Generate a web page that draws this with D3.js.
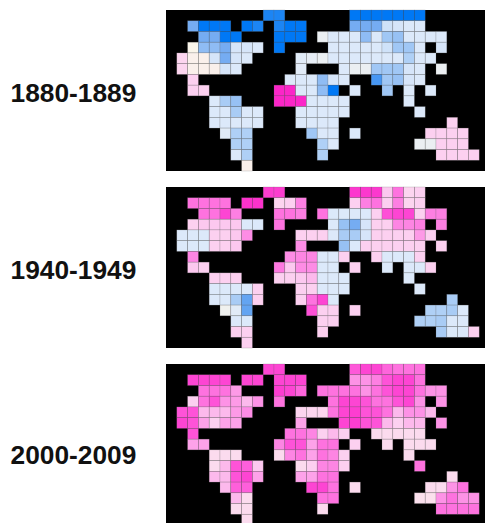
<!DOCTYPE html>
<html lang="en">
<head>
    <meta charset="UTF-8">
    <title>Decadal temperature maps</title>
    <script src="https://d3js.org/d3.v7.min.js"></script>
    <style>
        html, body { margin: 0; padding: 0; background: #fff; }
        svg { display: block; }
        text { font-family: "Liberation Sans", Arial, sans-serif; font-weight: bold; font-size: 26.3px; fill: #111; }
    </style>
</head>
<body>
<svg id="chart" width="485" height="523"></svg>
<script>
    const _ = null;

    const decades = ["1880-1889", "1940-1949", "2000-2009"];

    // temperature anomaly per grid cell, one row per latitude band
    const cells1880 = [
        [_,_,_,_,_,_,_,_,_,-3.5,-3.5,_,_,_,_,_,_,-4,-4,-4,-4,-4,-4,-4,_,_,_,_,_,_],
        [_,_,-2,-4,-4,-4,_,-4,-3.5,_,-3.5,-4,-4,_,_,_,_,-2,-2,-2,-.8,-.7,-.6,-.6,_,_,_,_,_,_],
        [_,_,_,-2,-2,-4,-4,_,_,_,-4,-4,-4,_,-.3,-.6,-.6,-.6,-1.7,-.6,-1.5,-1.6,-.6,-.6,-.6,-.6,_,_,_,_],
        [_,_,0,-1.7,-1.7,-2,-.7,-.7,-.6,_,-4,_,_,_,_,-.6,-.6,-.6,-.6,-.6,-.8,-1.5,-1.5,-.6,_,-.7,_,_,_,_],
        [_,.6,.1,.1,-.7,-2,-.7,-.6,_,_,_,_,-.5,-.4,-.3,-.6,-.6,-.6,-.6,-.6,-.6,-.6,-1.3,-.6,-.6,_,_,_,_,_],
        [_,.6,.1,.1,.1,-.7,-.6,_,_,_,_,_,-.5,_,_,_,-.6,-.3,-.3,-1.5,-1.5,-1.5,-.7,-.6,_,-.3,_,_,_,_],
        [_,_,.7,_,_,_,_,_,_,_,_,-.6,-.6,-.6,-1.7,-.7,-.6,_,_,-2.8,-1.5,-1.6,-.7,-.6,_,_,_,_,_,_],
        [_,_,.7,.7,_,_,_,_,_,_,4,4,-.6,-.6,-1.7,-4,_,-.6,_,_,-1.5,_,-.6,_,-.6,_,_,_,_,_],
        [_,_,_,_,-.6,-1.4,-1.6,_,_,_,4,4,4,-.6,-.6,-.6,-.6,_,_,_,_,_,-.6,_,_,_,_,_,_,_],
        [_,_,_,_,-.6,-.6,-1.4,-.6,-.6,_,_,_,-.6,-.6,-.6,-.6,-.6,_,_,_,_,_,_,-.6,_,_,_,_,_,_],
        [_,_,_,_,-.6,-.6,-.6,-.6,-.6,_,_,_,-.6,-.6,-.6,-.6,_,_,_,_,_,_,_,_,_,_,.7,_,_,_],
        [_,_,_,_,_,-.5,-1.3,-1.3,_,_,_,_,_,-1.5,-.6,-.6,_,-.6,_,_,_,_,_,_,.7,.7,.7,.7,_,_],
        [_,_,_,_,_,_,-1.3,-1.3,_,_,_,_,_,_,-1.3,-.6,_,_,_,_,_,_,_,-.3,-.3,.7,.7,.7,_,_],
        [_,_,_,_,_,_,-.6,-1.3,_,_,_,_,_,_,-1.3,_,_,_,_,_,_,_,_,_,_,.7,.7,.7,.7,_],
        [_,_,_,_,_,_,_,.1,_,_,_,_,_,_,_,_,_,_,_,_,_,_,_,_,_,_,_,_,_,_]
    ];
    const cells1940 = [
        [_,_,_,_,_,_,_,_,_,3.3,3.3,_,_,_,_,_,_,3.4,3.4,3.4,.8,2,.6,.7,_,_,_,_,_,_],
        [_,_,2,2,2,2,_,3.6,3.6,_,.6,.7,1.8,_,_,_,_,.7,1.8,2,.7,1.8,.6,.7,_,_,_,_,_,_],
        [_,_,_,2,2,3,1.8,_,_,_,2,2,1.8,_,2,-.6,-.6,-.6,-.6,.7,2.6,3,3,.7,1.8,1.8,_,_,_,_],
        [_,_,.7,.8,.8,.8,.8,-.6,-.6,_,2,_,_,_,_,-.6,-1.6,-2,-.7,.7,.7,1.7,1.7,1.8,_,1.8,_,_,_,_],
        [_,-.6,-.6,-.6,.7,.7,.8,1.6,_,_,_,_,.7,.7,.7,-.6,-1.4,-1.4,-.7,.7,.7,.7,.7,1.4,.7,_,_,_,_,_],
        [_,-.6,-.6,-.6,.7,.7,.8,_,_,_,_,_,1.6,_,_,_,-1.6,-.6,.7,.7,.7,.7,.7,.7,_,.7,_,_,_,_],
        [_,_,1.7,_,_,_,_,_,_,_,_,1.6,1.7,1.7,-.6,-.6,.7,_,_,.7,-.6,-.6,-.6,.7,_,_,_,_,_,_],
        [_,_,.8,.7,_,_,_,_,_,_,1.9,.8,1.6,1.6,-.6,-.6,_,.7,_,_,-.6,_,-.6,-.6,.7,_,_,_,_,_],
        [_,_,_,_,.7,.7,.7,_,_,_,.7,.7,.8,1,-.6,-.6,-.6,_,_,_,_,_,-.6,_,_,_,_,_,_,_],
        [_,_,_,_,-.6,-.6,-.6,-.6,.7,_,_,_,.7,.7,-.6,-.6,-.6,_,_,_,_,_,_,-.6,_,_,_,_,_,_],
        [_,_,_,_,-.6,-.6,-1.4,-2.3,.7,_,_,_,.7,2,3,-.6,_,_,_,_,_,_,_,_,_,_,-1.4,_,_,_],
        [_,_,_,_,_,-.2,-.5,-2.3,_,_,_,_,_,2.6,.7,.7,_,.7,_,_,_,_,_,_,-1.3,-1.3,-1.4,-.6,_,_],
        [_,_,_,_,_,_,-.6,-.6,_,_,_,_,_,_,.7,.7,_,_,_,_,_,_,_,-1.3,-1.3,-1.4,-.6,-.6,_,_],
        [_,_,_,_,_,_,.7,.7,_,_,_,_,_,_,.7,_,_,_,_,_,_,_,_,_,_,-1.4,-.6,-.6,.7,_],
        [_,_,_,_,_,_,_,.7,_,_,_,_,_,_,_,_,_,_,_,_,_,_,_,_,_,_,_,_,_,_]
    ];
    const cells2000 = [
        [_,_,_,_,_,_,_,_,_,3,3,_,_,_,_,_,_,2.4,3,3,2.2,2,2,2,_,_,_,_,_,_],
        [_,_,3,3,3,3,_,3,3,_,3,3,3,_,_,_,_,1.5,1.5,1.8,2.5,3,3,2,_,_,_,_,_,_],
        [_,_,_,2,2,2,1.4,_,_,_,3.2,3,2.2,_,2,2,2,2,1.5,2,2.5,3,3,2,1.5,1.5,_,_,_,_],
        [_,_,.7,2,2.5,1.5,1.4,1,1.5,_,2,_,_,_,_,2,3,3,2.5,2,2,2.5,3,1.5,_,1.5,_,_,_,_],
        [_,2.5,2.5,1,1,1,1.4,1.6,_,_,_,_,.6,.6,.6,2,3,3.2,2.5,2.5,2,1,1.5,1.5,1,_,_,_,_,_],
        [_,3,2.5,1.3,.7,1.3,1.3,_,_,_,_,_,1.3,_,_,_,3,3.2,2.5,2.5,1,.7,1,1,_,1.5,_,_,_,_],
        [_,_,2.5,_,_,_,_,_,_,_,_,2,2,1.7,.7,1,.7,_,_,.5,.5,.5,.5,.5,_,_,_,_,_,_],
        [_,_,1.3,1.3,_,_,_,_,_,_,1.7,2.5,2.5,1.3,2,2,_,.7,_,_,.5,_,.5,.5,.5,_,_,_,_,_],
        [_,_,_,_,.5,.5,.5,_,_,_,.5,1.7,2,1.3,2,1.7,.7,_,_,_,_,_,.5,_,_,_,_,_,_,_],
        [_,_,_,_,.5,1,2.5,2.3,.8,_,_,_,.5,.7,1.7,1.7,.7,_,_,_,_,_,_,2,_,_,_,_,_,_],
        [_,_,_,_,1,1,2.5,3,1.3,_,_,_,1.3,1.3,2,2,_,_,_,_,_,_,_,_,_,_,.5,_,_,_],
        [_,_,_,_,_,1,2.3,2.3,_,_,_,_,_,3,3,2,_,.5,_,_,_,_,_,_,.5,.5,1.5,2,_,_],
        [_,_,_,_,_,_,1,.5,_,_,_,_,_,_,2,2,_,_,_,_,_,_,_,.4,.4,1.5,2,1.5,1.5,_],
        [_,_,_,_,_,_,.5,.5,_,_,_,_,_,_,.5,_,_,_,_,_,_,_,_,_,_,2,2,2,2,_],
        [_,_,_,_,_,_,_,.5,_,_,_,_,_,_,_,_,_,_,_,_,_,_,_,_,_,_,_,_,_,_]
    ];
    const panels = [cells1880, cells1940, cells2000];

    const colorStops = [-4, -2, -1.4, -.6, 0, .7, 1.5, 2.5, 4];
    const colorRange = ["#0078f5", "#74acf2", "#a9ccf5", "#dce9fa", "#faf5ea", "#fcd0f0", "#fd92e6", "#fe52d8", "#fb28c8"];

    const svg = d3.select("#chart");

    const panelTop = d3.scaleOrdinal().domain(decades).range([10, 187, 364]);
    const labelY = d3.scaleOrdinal().domain(decades).range([92.5, 270, 455]);
    const panelHeight = 161;

    const color = d3.scaleLinear().domain(colorStops).range(colorRange).clamp(true);
    const x = d3.scaleBand().domain(d3.range(30)).range([166, 490]);
    const y = d3.scaleBand().domain(d3.range(15)).range([0, panelHeight]);

    // the source maps are soft, upscaled images
    svg.append("defs").append("filter").attr("id", "soft")
        .append("feGaussianBlur").attr("stdDeviation", 0.6);

    const panel = svg.selectAll("g.panel")
        .data(decades)
        .join("g")
        .attr("class", "panel")
        .attr("transform", d => `translate(0,${panelTop(d)})`);

    panel.append("rect")
        .attr("x", 166)
        .attr("width", 324)
        .attr("height", panelHeight)
        .attr("fill", "#000");

    panel.append("g")
        .attr("filter", "url(#soft)")
        .each(function (d, i) {
            const rows = panels[i].flatMap((row, r) => row.map((v, c) => ({r, c, v}))).filter(e => e.v !== null);
            d3.select(this).selectAll("rect")
                .data(rows)
                .join("rect")
                .attr("x", e => x(e.c))
                .attr("y", e => y(e.r))
                .attr("width", x.bandwidth())
                .attr("height", y.bandwidth())
                .attr("fill", e => color(e.v))
                .attr("stroke", "#666")
                .attr("stroke-opacity", .35)
                .attr("stroke-width", .6);
        });

    svg.selectAll("text.decade")
        .data(decades)
        .join("text")
        .attr("class", "decade")
        .attr("x", 10.5)
        .attr("y", d => labelY(d))
        .attr("dy", "0.35em")
        .text(d => d);
</script>
</body>
</html>
